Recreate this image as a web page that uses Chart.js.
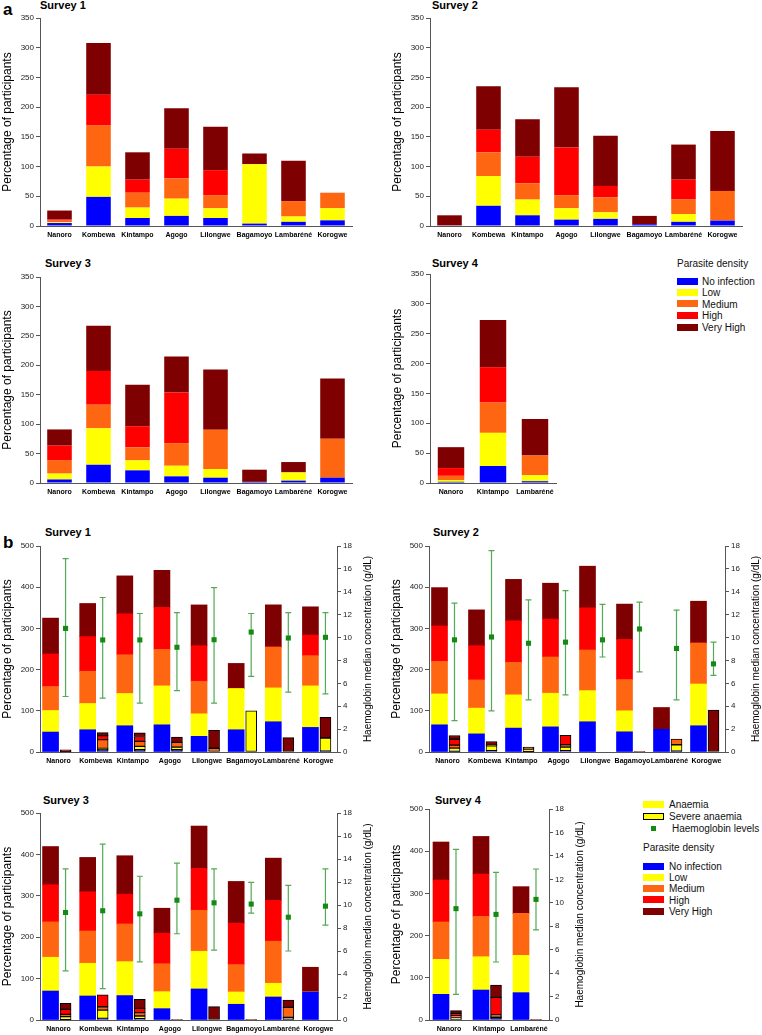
<!DOCTYPE html>
<html>
<head>
<meta charset="utf-8">
<script src="https://cdn.jsdelivr.net/npm/chart.js@4.4.1/dist/chart.umd.min.js"></script>
<style>
  body { margin: 0; background: #fff; font-family: "Liberation Sans", Arial, sans-serif; }
  #page { position: relative; width: 762px; height: 1035px; overflow: hidden; }
  canvas { position: absolute; }
  .txt { position: absolute; white-space: nowrap; color: #000; }
  .letter { font-weight: bold; font-size: 17px; line-height: 17px; }
  .title { font-weight: bold; font-size: 11px; line-height: 11px; }
  .leg { font-size: 10px; line-height: 12px; color: #111; }
  .sw { position: absolute; width: 21px; height: 7px; box-sizing: border-box; }
</style>
</head>
<body>
<div id="page">
  <div class="txt letter" style="left:3px;top:1px">a</div>
  <div class="txt letter" style="left:3px;top:534px">b</div>

  <div class="txt title" style="left:40px;top:0px">Survey 1</div>
  <div class="txt title" style="left:432px;top:0px">Survey 2</div>
  <div class="txt title" style="left:45px;top:258px">Survey 3</div>
  <div class="txt title" style="left:432px;top:258px">Survey 4</div>
  <div class="txt title" style="left:45px;top:527px">Survey 1</div>
  <div class="txt title" style="left:433px;top:527px">Survey 2</div>
  <div class="txt title" style="left:43px;top:795px">Survey 3</div>
  <div class="txt title" style="left:435px;top:795px">Survey 4</div>

  <canvas id="a1" width="357" height="232" style="left:0;top:10px"></canvas>
  <canvas id="a2" width="357" height="232" style="left:390px;top:10px"></canvas>
  <canvas id="a3" width="357" height="230" style="left:0;top:269px"></canvas>
  <canvas id="a4" width="171" height="233" style="left:390px;top:266px"></canvas>
  <canvas id="b1" width="374" height="230" style="left:0;top:538px"></canvas>
  <canvas id="b2" width="373" height="230" style="left:389px;top:538px"></canvas>
  <canvas id="b3" width="374" height="231" style="left:0;top:805px"></canvas>
  <canvas id="b4" width="197" height="235" style="left:389px;top:801px"></canvas>

  <div id="legendA"></div>
  <div id="legendB"></div>
</div>

<script>
// ---- data ----
const sites = ["Nanoro", "Kombewa", "Kintampo", "Agogo", "Lilongwe", "Bagamoyo", "Lambaréné", "Korogwe"];
const sitesS4 = ["Nanoro", "Kintampo", "Lambaréné"];
const levels = ["No infection", "Low", "Medium", "High", "Very High"];

// panel a, rows: No infection, Low, Medium, High, Very High
const densityA1 = [
  [5, 49, 13.5, 17, 13.5, 4, 7, 9.5],
  [1.5, 51, 17.5, 29, 16.5, 100, 9, 20.5],
  [2.5, 69, 25, 34, 22, 0, 26, 26],
  [2, 52, 22, 50, 42, 0, 0, 0],
  [15, 87, 46, 68, 73, 18, 68, 0]
];
const densityA2 = [
  [1, 34, 18, 10.7, 12, 3, 7, 9],
  [0, 50, 26.5, 19.3, 11, 0, 13, 0],
  [0, 40, 27.5, 22, 25, 0, 24.5, 50],
  [0, 38, 44.5, 80, 19.5, 0, 33.5, 0],
  [17, 73, 63, 101.5, 84.5, 14, 59, 101]
];
const densityA3 = [
  [6, 31, 21.5, 11.3, 9, 2, 4, 9],
  [10, 62, 17, 18, 14.7, 0, 14, 0],
  [23, 40, 22, 38.5, 66.7, 0, 0, 66],
  [24.5, 57.5, 36, 86, 0, 0, 0, 0],
  [27.5, 76.5, 70.5, 61, 102.4, 20.6, 17.6, 102.5]
];
const densityA4 = [
  [2, 28.5, 3],
  [3, 55.5, 10],
  [7, 50.7, 33],
  [13, 59.3, 0],
  [35, 78.8, 61]
];

// panel b, all participants by parasite density
const densityB1 = [
  [48.4, 54, 63.7, 66, 38, 54, 73.4, 59.7],
  [52.4, 63.7, 78.3, 94.5, 54.7, 100, 82.2, 100.8],
  [58.1, 78.3, 94, 88.5, 79, 0, 99.2, 73.4],
  [79, 84, 99.5, 102, 86.3, 0, 0, 50],
  [87.1, 80.5, 92, 90, 99, 61, 102.4, 68.5]
];
const densityB2 = [
  [66, 44, 58, 61, 73.4, 49, 55, 63.7],
  [75, 62.5, 80.7, 81.7, 75.6, 51, 0, 101.3],
  [79, 68.5, 79, 87.9, 98.6, 75.8, 0, 99.5],
  [86, 83, 100.8, 92, 102.4, 97.6, 0, 0],
  [93, 87, 100.5, 87.1, 101, 85.6, 53, 101.5]
];
const densityB3 = [
  [70, 58, 59, 27.4, 75, 38, 55.6, 67.7],
  [81.6, 79, 82, 41.1, 91, 29.7, 33.1, 0],
  [85.4, 78, 91, 67.5, 99, 66.2, 101.6, 0],
  [89.6, 94.7, 72, 73.7, 101, 100, 98.4, 0],
  [92.4, 83, 92.8, 60.3, 102.5, 100.8, 102.3, 59.7]
];
const densityB4 = [
  [60.8, 71, 64.8],
  [83, 79, 88.5],
  [88.5, 95.7, 99.5],
  [99.5, 100.3, 0],
  [90, 89, 63.2]
];

// panel b, severe anaemia by parasite density
const severeB1 = [
  [0, 5.6, 5.6, 5.6, 0, 0, 0, 2],
  [0, 3.3, 8, 6.4, 0, 100, 0, 32],
  [0, 21, 12, 11.4, 9, 0, 0, 0],
  [1, 9.7, 12, 0, 0, 0, 0, 0],
  [4, 7.3, 9, 12.9, 43.5, 0, 34.7, 50]
];
const severeB2 = [
  [1.5, 3, 1, 3, 0, 0, 2, 0],
  [8, 12, 6, 9, 0, 0, 15.5, 0],
  [7, 3, 3, 5.7, 0, 0, 14, 0],
  [14.5, 0, 0, 22.6, 0, 0, 0, 0],
  [9, 7.5, 2, 0, 0, 1, 0, 101.6]
];
const severeB3 = [
  [1, 4, 3, 0, 0, 0, 2, 0],
  [7, 20, 6.7, 0, 0, 0, 4.5, 0],
  [5.7, 8, 8, 0, 0, 0, 24, 0],
  [12.1, 28.5, 10.5, 0, 0, 0, 0, 0],
  [14.5, 0, 22, 1, 32.3, 1, 17.8, 0]
];
const severeB4 = [
  [2, 6.3, 0],
  [4, 1.5, 0],
  [4, 4, 0],
  [5.8, 41.9, 0],
  [6.3, 29.3, 1]
];

// haemoglobin median (g/dL) with range
const hbB1 = [10.8, 9.79, 9.79, 9.15, 9.81, 10.48, 9.96, 10.02];
const hbB1Low = [4.85, 4.7, 4.27, 5.37, 4.27, 6.6, 5.23, 5.08];
const hbB1High = [16.9, 13.5, 12.1, 12.17, 14.37, 12.1, 12.17, 12.17];
const hbB2 = [9.8, 10.05, 9.5, 9.6, 9.8, 10.75, 9.05, 7.7];
const hbB2Low = [2.75, 3.6, 4.55, 5.0, 8.3, 7.0, 4.55, 6.7];
const hbB2High = [13.0, 17.6, 13.3, 14.1, 12.9, 13.1, 12.4, 9.6];
const hbB3 = [9.35, 9.5, 9.23, 10.42, 10.19, 10.08, 8.94, 9.9];
const hbB3Low = [4.27, 2.73, 5.05, 7.5, 6.07, 9.3, 6.0, 8.25];
const hbB3High = [13.15, 15.3, 12.5, 13.65, 13.15, 11.96, 11.7, 13.15];
const hbB4 = [9.5, 9.01, 10.29];
const hbB4Low = [2.19, 4.95, 7.68];
const hbB4High = [14.56, 12.6, 12.88];

// ---- styles ----
const levelColors = ["#0000ff", "#ffff00", "#ff6611", "#ff0000", "#7f0000"];
const axisColor = "#555";
const hbColor = "#148a14";
const errColor = "#55a855";
const FONT = '"Liberation Sans", Arial, sans-serif';

Chart.defaults.font.family = FONT;
Chart.defaults.color = "#222";

function xAxis() {
  return {
    stacked: true,
    grid: { display: true, drawOnChartArea: false, drawTicks: false },
    border: { display: true, color: axisColor },
    ticks: { font: { size: 7, weight: "bold" }, color: "#000", padding: 5, autoSkip: false, maxRotation: 0 },
    afterFit: s => { s.height = 16; }
  };
}

function leftAxis(max, step) {
  return {
    stacked: true,
    min: 0,
    max: max,
    ticks: { stepSize: step, font: { size: 8 }, color: "#222", padding: 2 },
    grid: { display: true, drawOnChartArea: false, tickLength: 4, color: axisColor },
    border: { display: true, color: axisColor },
    title: { display: true, text: "Percentage of participants", font: { size: 12 }, color: "#000", padding: 0 },
    afterFit: s => { s.width = 40; }
  };
}

function densityChart(id, labels, rows) {
  const datasets = rows.map((vals, k) => ({
    label: levels[k],
    data: vals,
    backgroundColor: levelColors[k],
    stack: "p",
    categoryPercentage: 1,
    barPercentage: 0.63
  }));
  return new Chart(document.getElementById(id), {
    type: "bar",
    data: { labels, datasets },
    options: {
      responsive: false,
      animation: false,
      layout: { padding: { top: 8, right: 5, left: 0, bottom: 0 } },
      plugins: { legend: { display: false }, tooltip: { enabled: false } },
      scales: { x: xAxis(), y: leftAxis(350, 50) }
    }
  });
}

// put the haemoglobin points over the severe anaemia bar of each site
const alignHb = {
  id: "alignHb",
  afterDatasetsUpdate(chart) {
    const dsets = chart.data.datasets;
    const sev = dsets.findIndex(d => d.stack === "severe");
    const hb = dsets.findIndex(d => d.type === "line");
    const bars = chart.getDatasetMeta(sev).data;
    chart.getDatasetMeta(hb).data.forEach((pt, i) => { pt.x = bars[i].x; });
  }
};

const errorBars = {
  id: "errorBars",
  beforeDatasetsDraw(chart) {
    const dsets = chart.data.datasets;
    const hb = dsets.findIndex(d => d.type === "line");
    const ds = dsets[hb];
    const y1 = chart.scales.y1;
    const ctx = chart.ctx;
    ctx.save();
    ctx.strokeStyle = errColor;
    ctx.lineWidth = 1.2;
    chart.getDatasetMeta(hb).data.forEach((pt, i) => {
      const top = y1.getPixelForValue(ds.errHigh[i]);
      const bot = y1.getPixelForValue(ds.errLow[i]);
      ctx.beginPath();
      ctx.moveTo(pt.x, top); ctx.lineTo(pt.x, bot);
      ctx.moveTo(pt.x - 3, top); ctx.lineTo(pt.x + 3, top);
      ctx.moveTo(pt.x - 3, bot); ctx.lineTo(pt.x + 3, bot);
      ctx.stroke();
    });
    ctx.restore();
  }
};

const rightTitle = {
  id: "rightTitle",
  afterDraw(chart) {
    const s = chart.scales.y1;
    const ctx = chart.ctx;
    ctx.save();
    ctx.translate(s.left + 31, (s.top + s.bottom) / 2);
    ctx.rotate(-Math.PI / 2);
    ctx.textAlign = "center";
    ctx.textBaseline = "middle";
    ctx.fillStyle = "#000";
    ctx.font = "10px " + FONT;
    ctx.fillText("Haemoglobin median concentration (g/dL)", 0, 0);
    ctx.restore();
  }
};

function anaemiaChart(id, labels, mainRows, severeRows, hb, hbLow, hbHigh) {
  const datasets = [];
  mainRows.forEach((vals, k) => datasets.push({
    label: levels[k], data: vals, backgroundColor: levelColors[k],
    stack: "all", barThickness: 16, order: 1
  }));
  severeRows.forEach((vals, k) => datasets.push({
    label: "Severe anaemia – " + levels[k], data: vals, backgroundColor: levelColors[k],
    borderColor: "#000", borderWidth: 1, borderSkipped: false,
    stack: "severe", barThickness: 14, maxBarThickness: 11, order: 1
  }));
  datasets.push({
    type: "line", label: "Haemoglobin levels", data: hb, yAxisID: "y1",
    showLine: false, pointStyle: "rect", pointRadius: 3.6,
    backgroundColor: hbColor, borderColor: hbColor, borderWidth: 0, order: 0,
    errLow: hbLow, errHigh: hbHigh
  });
  return new Chart(document.getElementById(id), {
    type: "bar",
    data: { labels, datasets },
    options: {
      responsive: false,
      animation: false,
      layout: { padding: { top: 8, right: 0, left: 0, bottom: 0 } },
      plugins: { legend: { display: false }, tooltip: { enabled: false } },
      scales: {
        x: xAxis(),
        y: leftAxis(500, 100),
        y1: {
          position: "right",
          min: 0,
          max: 18,
          ticks: { stepSize: 2, font: { size: 8 }, color: "#222", padding: 2 },
          grid: { display: true, drawOnChartArea: false, tickLength: 4, color: axisColor },
          border: { display: true, color: axisColor },
          afterFit: s => { s.width = 37; }
        }
      }
    },
    plugins: [alignHb, errorBars, rightTitle]
  });
}

densityChart("a1", sites, densityA1);
densityChart("a2", sites, densityA2);
densityChart("a3", sites, densityA3);
densityChart("a4", sitesS4, densityA4);

anaemiaChart("b1", sites, densityB1, severeB1, hbB1, hbB1Low, hbB1High);
anaemiaChart("b2", sites, densityB2, severeB2, hbB2, hbB2Low, hbB2High);
anaemiaChart("b3", sites, densityB3, severeB3, hbB3, hbB3Low, hbB3High);
anaemiaChart("b4", sitesS4, densityB4, severeB4, hbB4, hbB4Low, hbB4High);

// ---- legends ----
function addText(parent, text, x, cy) {
  const d = document.createElement("div");
  d.className = "txt leg";
  d.style.left = x + "px";
  d.style.top = (cy - 5) + "px";
  d.textContent = text;
  parent.appendChild(d);
}
function addSwatch(parent, color, x, cy, border) {
  const d = document.createElement("div");
  d.className = "sw";
  d.style.left = x + "px";
  d.style.top = (cy - 3.5) + "px";
  d.style.background = color;
  if (border) d.style.border = "1px solid #000";
  parent.appendChild(d);
}

const legA = document.getElementById("legendA");
addText(legA, "Parasite density", 677, 263);
[281, 292.3, 303.7, 315, 327].forEach((cy, k) => {
  addSwatch(legA, levelColors[k], 677, cy);
  addText(legA, levels[k], 702, cy);
});

const legB = document.getElementById("legendB");
addSwatch(legB, "#ffff00", 643, 804);
addText(legB, "Anaemia", 669, 804);
addSwatch(legB, "#ffff00", 643, 816, true);
addText(legB, "Severe anaemia", 669, 816);
const sq = document.createElement("div");
sq.className = "sw";
sq.style.cssText = "left:651px;top:825.5px;width:5px;height:5px;background:" + hbColor;
legB.appendChild(sq);
addText(legB, "Haemoglobin levels", 672, 828);
addText(legB, "Parasite density", 643, 847);
[866, 877.3, 888.3, 899.7, 911.3].forEach((cy, k) => {
  addSwatch(legB, levelColors[k], 643, cy);
  addText(legB, levels[k], 669, cy);
});
</script>
</body>
</html>
